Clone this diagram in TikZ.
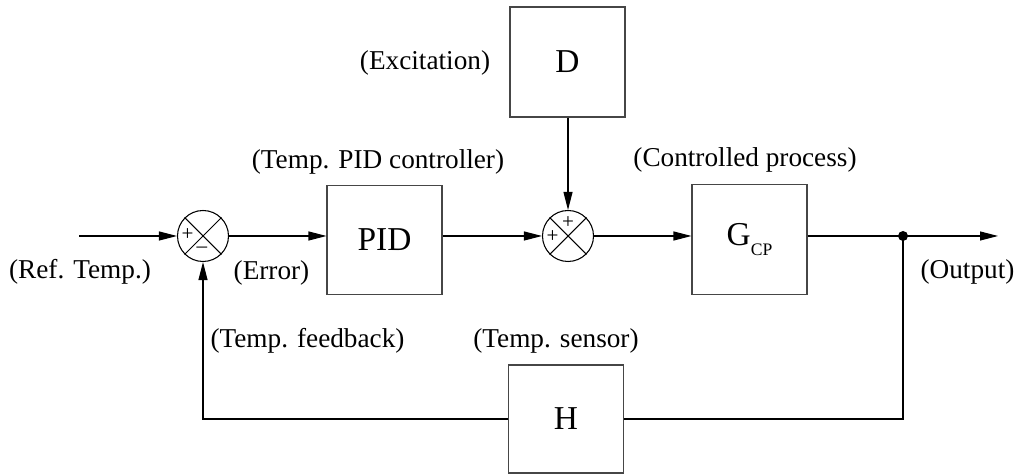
\documentclass[tikz,border=0pt]{standalone}
\usepackage{fontspec}
\setmainfont{Liberation Serif}
\usetikzlibrary{arrows.meta}
\definecolor{cLine}{RGB}{0,0,0}
\definecolor{cBox} {RGB}{70,70,70}
\tikzset{
  B/.style    = {draw=cBox, line width=0.6pt, text centered, inner sep=0pt,
                 minimum width=23mm, minimum height=21.8mm,
                 font=\fontsize{19}{22}\selectfont},
  sumB/.style = {draw=cLine, circle, line width=0.6pt, inner sep=0pt,
                 minimum size=10.2mm},
  sgn/.style  = {font=\fontsize{12}{14}\selectfont, inner sep=0pt},
  lbl/.style  = {font=\fontsize{15.5}{18}\selectfont, inner sep=0pt},
  A/.style    = {-{Triangle[length=3.6mm, width=1.8mm]}, line width=0.6pt},
  L/.style    = {line width=0.6pt},
}

\begin{document}
\begin{tikzpicture}

%% Layout:
%% x: 4.06=sum1, 7.69=PID, 11.36=sum2/D/H, 14.99=G_CP, 18.06=branch
%% y: 3.48=D, 0.0=main line, -3.66=feedback

\useasboundingbox (0,-4.76) rectangle (20.36,4.72);

%% ─── summing junctions ──────────────────────────────────────────
\node[sumB] (s1) at (4.06, 0) {};
\draw[L] (s1.north west)--(s1.south east);
\draw[L] (s1.north east)--(s1.south west);
\node[sgn] (s1p) at (3.75, 0.03) {+};
\node[sgn] (s1m) at (4.04,-0.27) {--};

\node[sumB] (s2) at (11.36, 0) {};
\draw[L] (s2.north west)--(s2.south east);
\draw[L] (s2.north east)--(s2.south west);
\node[sgn] (s2l) at (11.05,-0.02) {+};
\node[sgn] (s2t) at (11.36, 0.27) {+};

%% ─── blocks ──────────────────────────────────────────────────────
\node[B] (pid) at (7.69,-0.08) {PID};
\node[B, minimum height=22mm] (dst) at (11.35, 3.48) {D};
\node[B, minimum height=22mm] (gcp) at (14.99,-0.07)
  {G\raisebox{-5.7pt}{\fontsize{10}{12}\selectfont CP}};
\node[B, minimum height=21.6mm] (hbx) at (11.32,-3.66) {H};

\fill[cLine] (18.06,0) circle (0.1) coordinate (br);
\coordinate (inp) at (1.58,0);
\coordinate (outp) at (19.96,0);

%% ─── connectors ──────────────────────────────────────────────────
\draw[A] (inp)--(s1.west);
\draw[A] (s1.east)--(s1.east -| pid.west);
\draw[A] (pid.east |- s2)--(s2.west);
\draw[A] (dst.south -| s2)--(s2.north);
\draw[A] (s2.east)--(s2.east -| gcp.west);
\draw[L] (gcp.east |- br)--(br);
\draw[A] (br)--(outp);
\draw[L] (br) |- (hbx.east);
\draw[A] (hbx.west) -| (s1.south);

%% ─── labels ──────────────────────────────────────────────────────
\node[lbl] (tRef) at (1.60,-0.72) {(Ref. Temp.)};
\node[lbl] (tErr) at (5.43,-0.74) {(Error)};
\node[lbl] (tPid) at (7.56, 1.48) {(Temp. PID controller)};
\node[lbl] (tExc) at (8.50, 3.46) {(Excitation)};
\node[lbl] (tPrc) at (14.90, 1.52) {(Controlled process)};
\node[lbl] (tOut) at (19.35,-0.72) {(Output)};
\node[lbl] (tFbk) at (6.15,-2.10) {(Temp. feedback)};
\node[lbl] (tSns) at (11.12,-2.10) {(Temp. sensor)};

\end{tikzpicture}
\end{document}
